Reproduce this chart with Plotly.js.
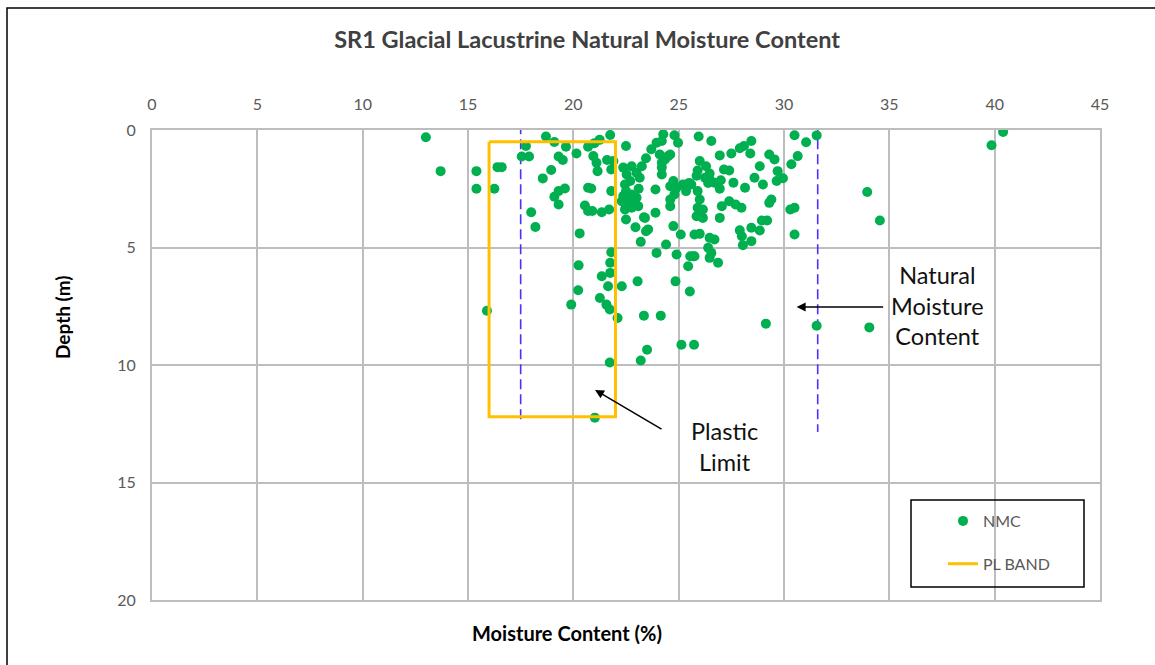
<!DOCTYPE html>
<html>
<head>
<meta charset="utf-8">
<script src="https://cdn.plot.ly/plotly-3.0.1.min.js"></script>
<style>html,body{margin:0;padding:0;background:#fff;}#chart{width:1155px;height:665px;}</style>
</head>
<body>
<div id="chart"></div>
<script>
// NMC sample points: moisture content (%) and depth (m)
const nmcMoisture = [
13.0,13.7,15.4,15.4,16.25,16.4,16.6,15.9,17.75,17.55,17.9,18.0,18.2,18.55,18.7,18.95,19.1,19.3,19.5,19.65,
19.6,19.3,19.1,19.3,19.9,20.15,20.3,20.25,20.23,20.55,20.7,20.9,21.35,21.7,20.7,20.85,20.7,21.25,21.0,21.75,
20.95,21.1,21.15,21.6,21.8,22.5,21.8,22.5,22.95,23.35,23.2,21.8,21.75,21.75,21.35,21.65,22.3,21.26,21.57,21.73,
22.1,21.73,21.02,23.05,24.85,25.53,23.35,24.15,25.13,25.73,23.5,23.2,22.37,22.53,22.7,22.5,22.75,22.77,23.0,23.25,
23.45,23.15,23.1,22.45,22.37,22.6,22.92,22.3,22.5,22.77,23.08,22.45,23.0,23.9,23.4,23.45,24.6,24.75,25.1,25.75,
24.4,23.95,24.9,25.55,25.75,25.45,23.9,23.7,23.95,24.27,24.8,24.97,24.2,24.1,24.35,24.6,24.2,24.2,24.6,24.9,
25.2,25.35,25.6,24.75,24.8,24.6,25.95,26.55,26.95,27.5,27.9,28.1,28.45,28.4,29.3,29.55,28.85,26.0,25.9,26.3,
26.47,25.85,26.25,26.47,26.7,27.15,27.4,27.0,26.95,27.6,28.15,28.6,29.0,29.7,29.65,29.95,30.5,31.05,31.55,30.65,
30.35,26.0,25.9,26.15,25.85,26.15,26.95,27.05,27.4,27.7,27.98,29.4,29.3,28.95,29.2,28.45,28.85,27.9,28.0,28.05,
28.45,30.3,30.5,30.5,26.0,26.47,26.7,26.4,26.55,26.47,26.87,25.7,33.95,34.55,39.85,40.4,29.14,31.55,34.05,25.5,
25.9,26.4,23.55,21.9,24.5,24.2
];
const nmcDepth = [
0.31,1.75,1.75,2.5,2.5,1.58,1.58,7.69,0.68,1.13,1.13,3.5,4.13,2.06,0.28,1.7,0.51,1.13,1.28,0.71,
2.49,2.6,2.84,3.17,7.43,1.0,4.4,5.76,6.82,3.21,3.45,3.45,3.5,3.38,2.46,2.49,0.71,0.42,0.56,0.21,
1.11,1.39,1.75,1.28,1.68,0.68,2.6,3.81,4.14,3.71,4.76,5.2,5.65,6.08,6.22,6.65,6.65,7.15,7.43,7.64,
8.0,9.89,12.24,6.44,6.44,6.87,7.9,7.9,9.14,9.14,9.35,9.81,1.6,1.89,2.17,2.6,2.74,1.54,1.82,1.54,
1.2,2.03,2.5,2.32,2.81,2.96,3.03,3.03,3.24,3.31,3.24,3.38,2.88,3.52,3.74,4.31,3.24,4.09,4.45,4.45,
4.87,5.23,5.3,5.37,5.37,5.8,2.53,0.82,0.54,0.18,0.22,0.54,0.47,1.04,1.25,1.04,1.6,1.89,2.39,2.46,
2.32,2.6,2.32,2.17,2.74,2.96,0.28,0.47,1.08,1.0,0.78,0.68,0.47,1.0,1.04,1.25,1.54,1.32,1.72,1.54,
1.85,1.95,2.03,2.1,2.24,1.68,1.72,2.14,2.5,2.24,2.46,2.03,2.32,1.75,2.17,2.05,0.22,0.52,0.23,1.11,
1.46,2.96,3.31,3.38,3.67,3.74,3.74,3.24,3.03,3.17,3.31,2.96,3.1,3.85,3.85,4.16,4.28,4.27,4.52,4.9,
4.73,3.38,3.31,4.45,4.42,4.59,4.66,5.01,5.23,5.44,5.65,5.37,2.64,3.85,0.65,0.08,8.24,8.33,8.4,2.25,
2.6,2.25,4.23,1.32,1.11,1.39
];
// Plastic limit band outline
const plMoisture = [16.0, 22.0, 22.0, 16.0, 16.0];
const plDepth = [0.5, 0.5, 12.2, 12.2, 0.5];
// Dashed reference lines (moisture range bounds)
const refLine1X = [17.5, 17.5];
const refLine1Y = [-0.25, 12.5];
const refLine2X = [31.6, 31.6];
const refLine2Y = [-0.25, 12.85];
const xTicks = [0,5,10,15,20,25,30,35,40,45];
const yTicks = [0,5,10,15,20];

const FONT = 'Lato, "Open Sans", sans-serif';

const traces = [
  {x: refLine1X, y: refLine1Y, mode: 'lines', showlegend: false, hoverinfo: 'skip',
   line: {color: '#4B30FF', width: 1.6, dash: '10px,5px'}},
  {x: refLine2X, y: refLine2Y, mode: 'lines', showlegend: false, hoverinfo: 'skip',
   line: {color: '#4B30FF', width: 1.6, dash: '10px,5px'}},
  {x: nmcMoisture, y: nmcDepth, mode: 'markers', name: 'NMC', legendgroup: 'a',
   marker: {color: '#00B050', size: 10, line: {width: 0}}},
  {x: plMoisture, y: plDepth, mode: 'lines', name: 'PL BAND', legendgroup: 'b',
   line: {color: '#FFC000', width: 3}}
];

const axisCommon = {
  showgrid: true, gridcolor: '#BDBDBD', gridwidth: 2,
  showline: true, linecolor: '#BDBDBD', linewidth: 2, mirror: true,
  zeroline: false, ticks: 'outside', tickcolor: 'rgba(0,0,0,0)',
  tickfont: {family: FONT, size: 16, color: '#595959'}
};

const layout = {
  width: 1155, height: 665,
  margin: {l: 152, r: 55, t: 130, b: 65},
  paper_bgcolor: '#ffffff', plot_bgcolor: '#ffffff',
  font: {family: FONT},
  title: {text: '<b>SR1 Glacial Lacustrine Natural Moisture Content</b>',
          x: 0.459, xref: 'paper', xanchor: 'center', y: 1 - 40/665, yref: 'container', yanchor: 'middle',
          font: {family: FONT, size: 23.5, color: '#404040'}},
  xaxis: Object.assign({}, axisCommon, {range: [0, 45], side: 'top', tickvals: xTicks, ticklen: 12}),
  yaxis: Object.assign({}, axisCommon, {range: [20, 0], tickvals: yTicks, ticklen: 11}),
  showlegend: true,
  legend: {x: (943-152)/948, y: (600-504)/470, xanchor: 'left', yanchor: 'top',
           bgcolor: 'rgba(0,0,0,0)', borderwidth: 0, traceorder: 'grouped', tracegroupgap: 19,
           font: {family: FONT, size: 16, color: '#595959'}},
  shapes: [
    {type: 'rect', xref: 'paper', yref: 'paper', x0: (911-152)/948, x1: (1084-152)/948,
     y0: (600-500)/470, y1: (600-587)/470, line: {color: '#000', width: 1.5}, fillcolor: 'rgba(0,0,0,0)'},
    {type: 'rect', xref: 'paper', yref: 'paper', x0: (7-152)/948, x1: (1170-152)/948,
     y0: (600-8)/470, y1: (600-680)/470, line: {color: '#000', width: 1.5}, fillcolor: 'rgba(0,0,0,0)'}
  ],
  annotations: [
    {text: '<b>Moisture Content (%)</b>', xref: 'paper', yref: 'paper', x: (567-152)/948, y: (600-633)/470,
     showarrow: false, xanchor: 'center', yanchor: 'middle', font: {family: FONT, size: 20, color: '#000'}},
    {text: '<b>Depth (m)</b>', xref: 'paper', yref: 'paper', x: (62-152)/948, y: (600-318)/470,
     showarrow: false, textangle: -90, xanchor: 'center', yanchor: 'middle', font: {family: FONT, size: 19, color: '#000'}},
    {text: 'Natural<br>Moisture<br>Content', xref: 'paper', yref: 'paper', x: (937-152)/948, y: (600-305)/470,
     showarrow: false, xanchor: 'center', yanchor: 'middle', font: {family: FONT, size: 23.5, color: '#111'}},
    {text: 'Plastic<br>Limit', xref: 'paper', yref: 'paper', x: (724-152)/948, y: (600-446)/470,
     showarrow: false, xanchor: 'center', yanchor: 'middle', font: {family: FONT, size: 23.5, color: '#111'}},
    {text: '', x: 30.6, y: 7.53, xref: 'x', yref: 'y', showarrow: true, ax: 88, ay: 0,
     arrowhead: 2, arrowsize: 1.2, arrowwidth: 1.5, arrowcolor: '#000', standoff: 0, startstandoff: 0},
    {text: '', x: 21.03, y: 11.06, xref: 'x', yref: 'y', showarrow: true, ax: 68, ay: 40,
     arrowhead: 2, arrowsize: 1.2, arrowwidth: 1.5, arrowcolor: '#000', standoff: 0, startstandoff: 0}
  ]
};

Plotly.newPlot('chart', traces, layout, {displayModeBar: false, staticPlot: true});
</script>
</body>
</html>
